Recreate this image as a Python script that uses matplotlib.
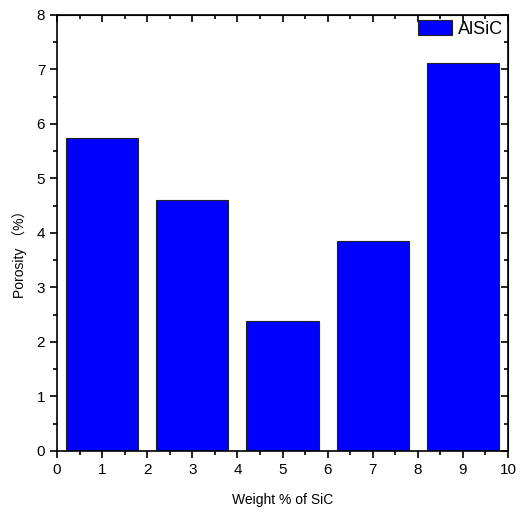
import matplotlib
matplotlib.use("Agg")
import matplotlib.pyplot as plt
from matplotlib.ticker import MultipleLocator

plt.rcParams['font.family'] = ['Liberation Sans', 'Noto Sans CJK SC', 'DejaVu Sans']

weights = [1, 3, 5, 7, 9]
porosity = [5.74, 4.61, 2.38, 3.86, 7.11]
series_name = "AlSiC"

fig = plt.figure(figsize=(5.2, 5.16), dpi=100)
ax = fig.add_axes([0.1096, 0.126, 0.8674, 0.845])
ax.bar(weights, porosity, width=1.6, color='#0000ff', edgecolor='#222222', linewidth=0.8, label=series_name)
ax.set_xlim(0, 10)
ax.set_ylim(0, 8)
ax.xaxis.set_major_locator(MultipleLocator(1))
ax.xaxis.set_minor_locator(MultipleLocator(0.5))
ax.yaxis.set_major_locator(MultipleLocator(1))
ax.yaxis.set_minor_locator(MultipleLocator(0.5))
ax.tick_params(which='both', direction='out', top=False, right=False, labelsize=11, width=1.2)
ax.tick_params(which='major', length=5)
ax.tick_params(which='minor', length=3)
for s in ax.spines.values():
    s.set_linewidth(1.2)
sx = ax.secondary_xaxis('top')
sx.xaxis.set_major_locator(MultipleLocator(1))
sx.xaxis.set_minor_locator(MultipleLocator(0.5))
sx.tick_params(which='both', direction='in', labeltop=False, width=1.2)
sx.tick_params(which='major', length=5)
sx.tick_params(which='minor', length=3)
sy = ax.secondary_yaxis('right')
sy.yaxis.set_major_locator(MultipleLocator(1))
sy.yaxis.set_minor_locator(MultipleLocator(0.5))
sy.tick_params(which='both', direction='in', labelright=False, width=1.2)
sy.tick_params(which='major', length=5)
sy.tick_params(which='minor', length=3)

ax.set_xlabel("Weight % of SiC", fontsize=10, labelpad=12)
ax.set_ylabel("Porosity （%）", fontsize=10)
ax.yaxis.set_label_coords(-0.066, 0.46)
ax.legend(loc='upper right', frameon=False, fontsize=13, handlelength=1.9, handleheight=0.9,
          handletextpad=0.3, borderaxespad=0.2, borderpad=0.1)
fig.savefig("out.png", dpi=100)
